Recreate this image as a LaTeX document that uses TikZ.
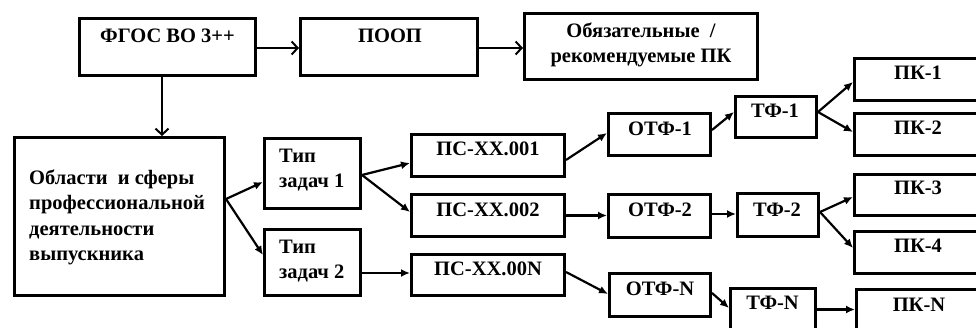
\documentclass[tikz,border=0pt]{standalone}
\usepackage{fontspec}
\setmainfont{Liberation Serif}
\usetikzlibrary{arrows.meta}
\tikzset{
  box/.style={draw=black, line width=3pt, rectangle, inner sep=0pt},
  txt/.style={font=\fontsize{20.5pt}{25.5pt}\selectfont\bfseries, inner sep=0pt},
  openarr/.style={line width=2pt, -{Straight Barb[length=6pt,width=13pt,line width=2pt]}},
  fillarr/.style={line width=2.2pt, -{Latex[length=9pt,width=8pt]}},
}
\newcommand\mybox[5]{\node[box, minimum width=#4 pt, minimum height=#5 pt] (#1) at (#2,#3) {};}
\begin{document}
\begin{tikzpicture}[x=1pt,y=-1pt]
\useasboundingbox (0,0) rectangle (976,328);
\clip (0,0) rectangle (976,328);
% boxes
\mybox{fgos}{167.5}{47}{176}{57}
\mybox{poop}{389}{47}{177}{57}
\mybox{ob}{641}{46.5}{233}{66}
\mybox{obl}{119.5}{216.5}{210}{158}
\mybox{tipa}{312.5}{173.5}{96}{70}
\mybox{tipb}{312.5}{262.5}{96}{66}
\mybox{psa}{488}{155.5}{153}{42}
\mybox{psb}{488}{215.5}{153}{42}
\mybox{psn}{488}{275}{153}{41}
\mybox{otfa}{659.5}{134.5}{102}{42}
\mybox{otfb}{659.5}{216}{102}{43}
\mybox{otfn}{660}{295}{101}{43}
\mybox{tfa}{776}{117}{81}{41}
\mybox{tfb}{778}{215}{81}{43}
\mybox{tfn}{773}{309.5}{85}{42}
\mybox{pka}{918}{79.5}{127}{42}
\mybox{pkb}{918}{134.5}{127}{42}
\mybox{pkc}{918}{195}{127}{41}
\mybox{pkd}{918}{252.5}{127}{42}
\mybox{pkn}{919}{310.5}{125}{42}
% texts
\node[txt, anchor=base] (fgos-t) at (167.5,43) {ФГОС ВО 3++};
\node[txt, anchor=base] (poop-t) at (390,43) {ПООП};
\node[txt, anchor=north, align=center] (ob-t) at (641,22.5) {Обязательные \ /\\рекомендуемые ПК};
\node[txt, anchor=north west, align=left] (obl-t) at (29,169.5) {Области \ и сферы\\профессиональной\\деятельности\\выпускника};
\node[txt, anchor=north west, align=left] (tipa-t) at (279,148.5) {Тип\\задач 1};
\node[txt, anchor=north west, align=left] (tipb-t) at (279,239.5) {Тип\\задач 2};
\node[txt, anchor=base] (psa-t) at (488,156) {ПС-XX.001};
\node[txt, anchor=base] (psb-t) at (488,217) {ПС-XX.002};
\node[txt, anchor=base] (psn-t) at (488,276) {ПС-XX.00N};
\node[txt, anchor=base] (otfa-t) at (660,136) {ОТФ-1};
\node[txt, anchor=base] (otfb-t) at (660,217) {ОТФ-2};
\node[txt, anchor=base] (otfn-t) at (660,296) {ОТФ-N};
\node[txt, anchor=base] (tfa-t) at (775,118) {ТФ-1};
\node[txt, anchor=base] (tfb-t) at (777,217) {ТФ-2};
\node[txt, anchor=base] (tfn-t) at (772.5,309) {ТФ-N};
\node[txt, anchor=base] (pka-t) at (918,80) {ПК-1};
\node[txt, anchor=base] (pkb-t) at (918,135) {ПК-2};
\node[txt, anchor=base] (pkc-t) at (918,195) {ПК-3};
\node[txt, anchor=base] (pkd-t) at (918,253) {ПК-4};
\node[txt, anchor=base] (pkn-t) at (919,311) {ПК-N};
% top connectors (open heads)
\draw[openarr] ([yshift=-1pt]fgos.east) -- ([yshift=-1pt]fgos.east -| poop.west);
\draw[openarr] ([yshift=-1pt]poop.east) -- ([yshift=-1pt]poop.east -| ob.west);
\draw[openarr] ([xshift=-5.5pt]fgos.south) -- ([xshift=-5.5pt]fgos.south |- obl.north);
% filled connectors
\draw[fillarr] ([yshift=17.5pt]obl.east) -- ([yshift=-8.5pt]tipa.west);
\draw[fillarr] ([yshift=17.5pt]obl.east) -- ([yshift=7.5pt]tipb.west);
\draw[fillarr] ([yshift=-1.5pt]tipa.east) -- ([yshift=-7.5pt]psa.west);
\draw[fillarr] ([yshift=-1.5pt]tipa.east) -- ([yshift=3.5pt]psb.west);
\draw[fillarr] ([yshift=-10.5pt]tipb.east) -- ([yshift=-10.5pt]tipb.east -| psn.west);
\draw[fillarr] ([yshift=-4.5pt]psa.east) -- ([yshift=1.5pt]otfa.west);
\draw[fillarr] (psb.east) -- (psb.east -| otfb.west);
\draw[fillarr] ([yshift=3pt]psn.east) -- ([yshift=1pt]otfn.west);
\draw[fillarr] ([yshift=4.5pt]otfa.east) -- ([yshift=5pt]tfa.west);
\draw[fillarr] ([yshift=2pt]otfb.east) -- ([yshift=2pt]otfb.east -| tfb.west);
\draw[fillarr] ([yshift=2pt]otfn.east) -- ([yshift=1.5pt]tfn.west);
\draw[fillarr] ([yshift=5pt]tfa.east) -- ([yshift=-2.5pt]pka.west);
\draw[fillarr] ([yshift=5pt]tfa.east) -- ([yshift=2.5pt]pkb.west);
\draw[fillarr] ([yshift=3pt]tfb.east) -- ([yshift=-2pt]pkc.west);
\draw[fillarr] ([yshift=3pt]tfb.east) -- ([yshift=4.5pt]pkd.west);
\draw[fillarr] (tfn.east) -- (tfn.east -| pkn.west);
\end{tikzpicture}
\end{document}
